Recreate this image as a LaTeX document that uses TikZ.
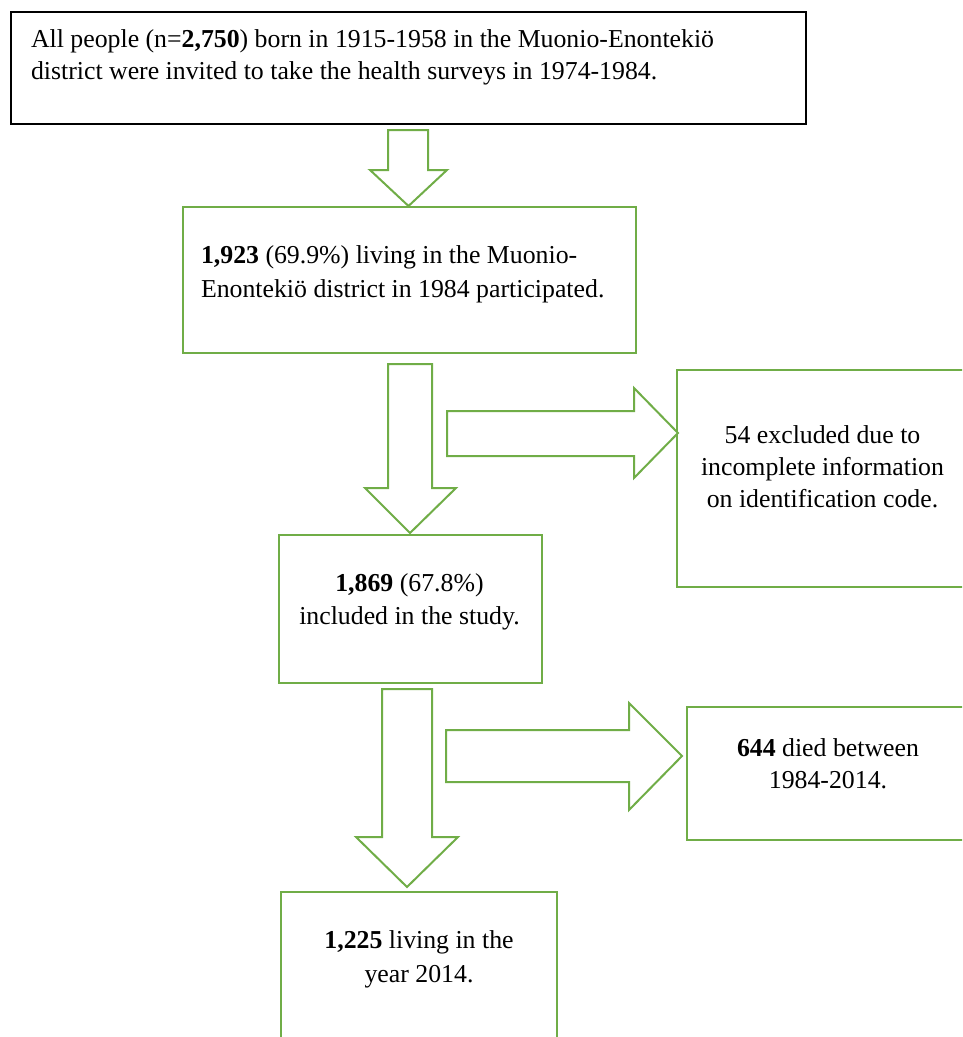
\documentclass[tikz,border=0pt]{standalone}
\usepackage{fontspec}
\setmainfont{Liberation Serif}
\definecolor{wgreen}{HTML}{70AD47}
\begin{document}
\begin{tikzpicture}[x=1pt,y=-1pt,
  every node/.style={inner sep=0pt,outer sep=0pt},
  blackbox/.style={draw=black,line width=2pt,rectangle},
  greenbox/.style={draw=wgreen,line width=2pt,rectangle},
  blockarrow/.style={draw=wgreen,line width=2pt,fill=white,line join=miter},
  txt/.style={font=\fontsize{25.8pt}{33pt}\selectfont,anchor=base},
  txtl/.style={font=\fontsize{25.8pt}{33pt}\selectfont,anchor=base west}]
\useasboundingbox (0,0) rectangle (962,1037);
\clip (0,0) rectangle (962,1037);
% boxes
\node[blackbox,minimum width=795pt,minimum height=112pt] (top) at (408.5,68) {};
\node[greenbox,minimum width=453pt,minimum height=146pt] (b2) at (409.5,280) {};
\node[greenbox,minimum width=263pt,minimum height=148pt] (b3) at (410.5,609) {};
\node[greenbox,minimum width=313pt,minimum height=217pt] (b4) at (833.5,478.5) {};
\node[greenbox,minimum width=303pt,minimum height=133pt] (b5) at (838.5,773.5) {};
\node[greenbox,minimum width=276pt,minimum height=168pt] (b6) at (419,976) {};
% block arrows
\draw[blockarrow] (388,130) -- (428,130) -- (428,170) -- (447,170) -- (408.5,206) coordinate (a1tip) -- (370,170) -- (388,170) -- cycle;
\draw[blockarrow] (388,364) -- (432,364) -- (432,488) -- (456,488) -- (410,533) coordinate (a2tip) -- (365,488) -- (388,488) -- cycle;
\draw[blockarrow] (447,411) -- (634,411) -- (634,388) -- (678,433) coordinate (a3tip) -- (634,478) -- (634,456) -- (447,456) -- cycle;
\draw[blockarrow] (382,689) -- (432,689) -- (432,837) -- (458,837) -- (407,887) coordinate (a4tip) -- (356,837) -- (382,837) -- cycle;
\draw[blockarrow] (446,730) -- (629,730) -- (629,703) -- (682,756) coordinate (a5tip) -- (629,810) -- (629,782) -- (446,782) -- cycle;
% texts
\node[txtl] (t1a) at (31,47) {All people (n=\textbf{2,750}) born in 1915-1958 in the Muonio-Enontekiö};
\node[txtl] (t1b) at (31,79) {district were invited to take the health surveys in 1974-1984.};
\node[txtl] (t2a) at (201,263) {\textbf{1,923} (69.9\%) living in the Muonio-};
\node[txtl] (t2b) at (201,297) {Enontekiö district in 1984 participated.};
\node[txt] (t3a) at (409.5,591) {\textbf{1,869} (67.8\%)};
\node[txt] (t3b) at (409.5,624) {included in the study.};
\node[txt] (t4a) at (822.5,443) {54 excluded due to};
\node[txt] (t4b) at (822.5,475) {incomplete information};
\node[txt] (t4c) at (822.5,507) {on identification code.};
\node[txt] (t5a) at (828,756) {\textbf{644} died between};
\node[txt] (t5b) at (828,788) {1984-2014.};
\node[txt] (t6a) at (419,948) {\textbf{1,225} living in the};
\node[txt] (t6b) at (419,982) {year 2014.};
\end{tikzpicture}
\end{document}
